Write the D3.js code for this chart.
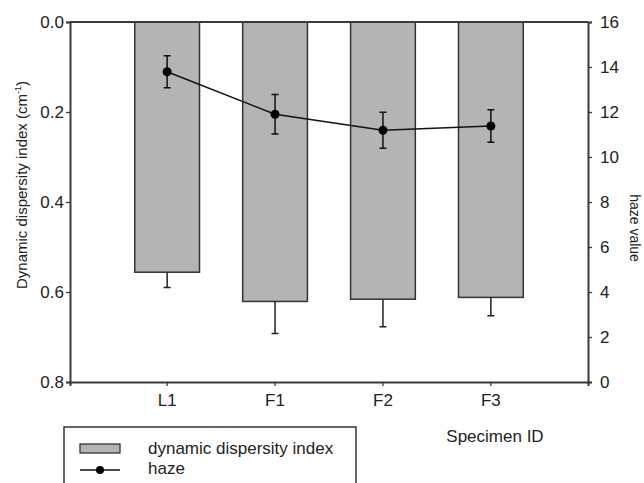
<!DOCTYPE html>
<html>
<head>
<meta charset="utf-8">
<script src="https://cdn.jsdelivr.net/npm/d3@7"></script>
<style>
  body { margin: 0; background: #fff; }
  svg text { font-family: "Liberation Sans", Arial, sans-serif; fill: #222; }
</style>
</head>
<body>
<svg width="644" height="483"></svg>
<script>
// data
var specimens = ["L1", "F1", "F2", "F3"];
var ddi = [0.556, 0.621, 0.616, 0.612];       // dynamic dispersity index (cm-1)
var ddiErr = [0.034, 0.071, 0.061, 0.041];
var haze = [13.79, 11.90, 11.19, 11.38];      // haze value
var hazeErr = [0.71, 0.88, 0.80, 0.72];
var leftTicks = [0, 0.2, 0.4, 0.6, 0.8];
var rightTicks = [0, 2, 4, 6, 8, 10, 12, 14, 16];

var svg = d3.select("svg");
var pLeft = 70, pRight = 588, pTop = 22, pBottom = 382;
var axisColor = "#3a3a3a";

var x = d3.scaleBand()
	.domain(specimens)
	.range([pLeft, pRight])
	.paddingInner(0.4)
	.paddingOuter(0.6);

var yL = d3.scaleLinear().domain([0, 0.8]).range([pTop, pBottom]);
var yR = d3.scaleLinear().domain([0, 16]).range([pBottom, pTop]);

var rows = specimens.map(function(s, i) {
	return { id: s, ddi: ddi[i], ddiErr: ddiErr[i], haze: haze[i], hazeErr: hazeErr[i] };
});

// bars
var g = svg.append("g");
g.selectAll("rect.bar")
	.data(rows)
	.enter().append("rect")
	.attr("class", "bar")
	.attr("x", function(d) { return x(d.id); })
	.attr("y", yL(0))
	.attr("width", x.bandwidth())
	.attr("height", function(d) { return yL(d.ddi) - yL(0); })
	.style("fill", "#b4b4b4")
	.style("stroke", "#333")
	.style("stroke-width", 1.5);

// bar error bars (downward only)
var cap = 3.5;
g.selectAll("path.berr")
	.data(rows)
	.enter().append("path")
	.attr("class", "berr")
	.attr("d", function(d) {
		var cx = x(d.id) + x.bandwidth() / 2,
			y0 = yL(d.ddi), y1 = yL(d.ddi + d.ddiErr);
		return "M" + cx + "," + y0 + "V" + y1 + "M" + (cx - cap) + "," + y1 + "H" + (cx + cap);
	})
	.style("stroke", "#222")
	.style("stroke-width", 1.5)
	.style("fill", "none");

// frame / axes
var axL = svg.append("g")
	.attr("transform", "translate(" + pLeft + ",0)")
	.call(d3.axisLeft(yL).tickValues(leftTicks).tickFormat(d3.format(".1f")).tickSizeOuter(0).tickSize(4));
var axR = svg.append("g")
	.attr("transform", "translate(" + pRight + ",0)")
	.call(d3.axisRight(yR).tickValues(rightTicks).tickSizeOuter(0).tickSize(4));
var axB = svg.append("g")
	.attr("transform", "translate(0," + pBottom + ")")
	.call(d3.axisBottom(x).tickSizeOuter(0).tickSize(4));
svg.append("line")
	.attr("x1", pLeft).attr("x2", pRight)
	.attr("y1", pTop).attr("y2", pTop)
	.style("stroke", axisColor).style("stroke-width", 2);

[axL, axR, axB].forEach(function(a) {
	a.selectAll("path.domain").style("stroke", axisColor).style("stroke-width", 2);
	a.selectAll(".tick line").style("stroke", axisColor).style("stroke-width", 1.3);
	a.selectAll(".tick text").style("font-size", "17px").style("fill", "#222");
});
axL.selectAll(".tick text").attr("x", -6);
axR.selectAll(".tick text").attr("x", 12);
axB.selectAll(".tick text").attr("y", 12);

// haze line
var line = d3.line()
	.x(function(d) { return x(d.id) + x.bandwidth() / 2; })
	.y(function(d) { return yR(d.haze); });
var hz = svg.append("g");
hz.append("path")
	.datum(rows)
	.attr("d", line)
	.style("fill", "none")
	.style("stroke", "#111")
	.style("stroke-width", 1.5);
hz.selectAll("path.herr")
	.data(rows)
	.enter().append("path")
	.attr("class", "herr")
	.attr("d", function(d) {
		var cx = x(d.id) + x.bandwidth() / 2,
			y0 = yR(d.haze - d.hazeErr), y1 = yR(d.haze + d.hazeErr);
		return "M" + cx + "," + y0 + "V" + y1 +
			"M" + (cx - cap) + "," + y1 + "H" + (cx + cap) +
			"M" + (cx - cap) + "," + y0 + "H" + (cx + cap);
	})
	.style("stroke", "#111")
	.style("stroke-width", 1.5)
	.style("fill", "none");
hz.selectAll("circle")
	.data(rows)
	.enter().append("circle")
	.attr("cx", function(d) { return x(d.id) + x.bandwidth() / 2; })
	.attr("cy", function(d) { return yR(d.haze); })
	.attr("r", 4.5)
	.style("fill", "#000");

// axis titles
var lt = svg.append("text")
	.attr("transform", "translate(27,185) rotate(-90)")
	.attr("text-anchor", "middle")
	.style("font-size", "15px");
lt.append("tspan").text("Dynamic dispersity index (cm");
lt.append("tspan").attr("dy", -6).style("font-size", "9px").text("-1");
lt.append("tspan").attr("dy", 6).text(")");

svg.append("text")
	.attr("transform", "translate(630,228) rotate(90)")
	.attr("text-anchor", "middle")
	.style("font-size", "14px")
	.text("haze value");

svg.append("text")
	.attr("x", 495).attr("y", 442)
	.attr("text-anchor", "middle")
	.style("font-size", "17px")
	.text("Specimen ID");

// legend
var lg = svg.append("g");
lg.append("rect")
	.attr("x", 64).attr("y", 427)
	.attr("width", 292).attr("height", 70)
	.style("fill", "none").style("stroke", "#333").style("stroke-width", 1.5);
lg.append("rect")
	.attr("x", 80).attr("y", 444)
	.attr("width", 40).attr("height", 9)
	.style("fill", "#b4b4b4").style("stroke", "#333").style("stroke-width", 1.3);
lg.append("line")
	.attr("x1", 80).attr("x2", 120).attr("y1", 470).attr("y2", 470)
	.style("stroke", "#111").style("stroke-width", 1.5);
lg.append("circle")
	.attr("cx", 100).attr("cy", 470).attr("r", 4)
	.style("fill", "#000");
lg.append("text").attr("x", 148).attr("y", 454).style("font-size", "17px").text("dynamic dispersity index");
lg.append("text").attr("x", 148).attr("y", 474).style("font-size", "17px").text("haze");
</script>
</body>
</html>
